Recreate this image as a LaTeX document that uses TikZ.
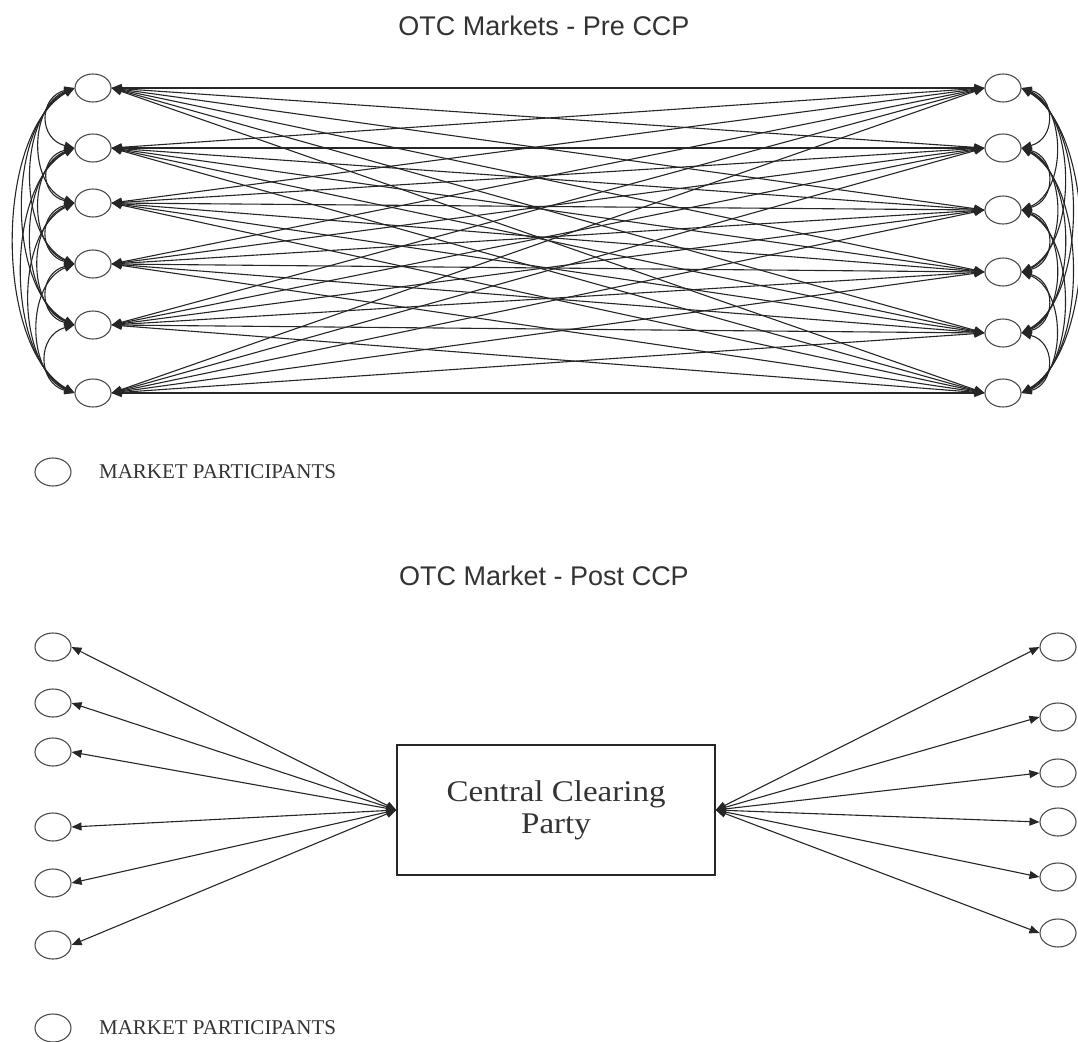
\documentclass[tikz,border=0pt]{standalone}
\usepackage{fontspec}
\setmainfont{Liberation Serif}
\newfontfamily\titlefont{Liberation Sans}
\newfontfamily\boxfont[FakeStretch=1.1]{Liberation Serif}
\usetikzlibrary{shapes.geometric, arrows.meta, positioning}

\def\leftys{1/88,2/148,3/203,4/264,5/325,6/393}
\def\rightys{1/88,2/148,3/210,4/272,5/333,6/393}

\begin{document}
\begin{tikzpicture}[
    x=1pt, y=-1pt,
    party/.style={draw=black!70, ellipse, line width=1.1pt, minimum width=36pt, minimum height=28pt, inner sep=0pt},
    link/.style={{Triangle[length=10pt,width=8pt]}-{Triangle[length=10pt,width=8pt]}, line width=1.1pt, draw=black!85},
    title/.style={font=\titlefont\fontsize{27}{32}\selectfont, text=black!80},
    legend/.style={font=\fontsize{21}{24}\selectfont, text=black!80}
]
    \useasboundingbox (0,0) rectangle (1078,1041);

    % Pre CCP
    \node[title] (pretitle) at (544,26) {OTC Markets - Pre CCP};
    \foreach \i/\a in \leftys {\node[party] (l\i) at (93,\a) {};}
    \foreach \i/\a in \rightys {\node[party] (r\i) at (1003,\a) {};}

    \foreach \i in {1,...,6} {
        \foreach \j in {1,...,6} {\draw[link] (l\i.east) -- (r\j.west);}
    }

    % arcs between the participants of one side
    \foreach \i/\a in \leftys {
        \foreach \j/\b in \leftys {
            \ifnum\j>\i
                \pgfmathsetmacro\c{1.333*(19+0.135*(\b-\a))}
                \pgfmathsetmacro\k{0.15*(\b-\a)}
                \draw[link] (l\i.west) .. controls +(-\c,\k) and +(-\c,-\k) .. (l\j.west);
            \fi
        }
    }
    \foreach \i/\a in \rightys {
        \foreach \j/\b in \rightys {
            \ifnum\j>\i
                \pgfmathsetmacro\c{1.333*(18+0.13*(\b-\a))}
                \pgfmathsetmacro\k{0.15*(\b-\a)}
                \draw[link] (r\i.east) .. controls +(\c,\k) and +(\c,-\k) .. (r\j.east);
            \fi
        }
    }

    \node[party] (key1) at (53,472) {};
    \node[legend, right=24pt of key1] (keytext1) {MARKET PARTICIPANTS};

    % Post CCP
    \node[title] (posttitle) at (544,576) {OTC Market - Post CCP};
    \node[draw=black!85, line width=1.4pt, minimum width=318pt, minimum height=130pt, align=center,
          font=\boxfont\fontsize{30}{32}\selectfont, text=black!80] (ccp) at (556,810) {Central Clearing\\Party};

    \foreach \i/\a in {1/647,2/703,3/752,4/827,5/883,6/945} {
        \node[party] (pl\i) at (53,\a) {};
        \draw[link] (ccp.west) -- (pl\i.east);
    }
    \foreach \i/\a in {1/647,2/717,3/773,4/822,5/877,6/933} {
        \node[party] (pr\i) at (1058,\a) {};
        \draw[link] (ccp.east) -- (pr\i.west);
    }

    \node[party] (key2) at (53,1028) {};
    \node[legend, right=24pt of key2] (keytext2) {MARKET PARTICIPANTS};
\end{tikzpicture}
\end{document}
